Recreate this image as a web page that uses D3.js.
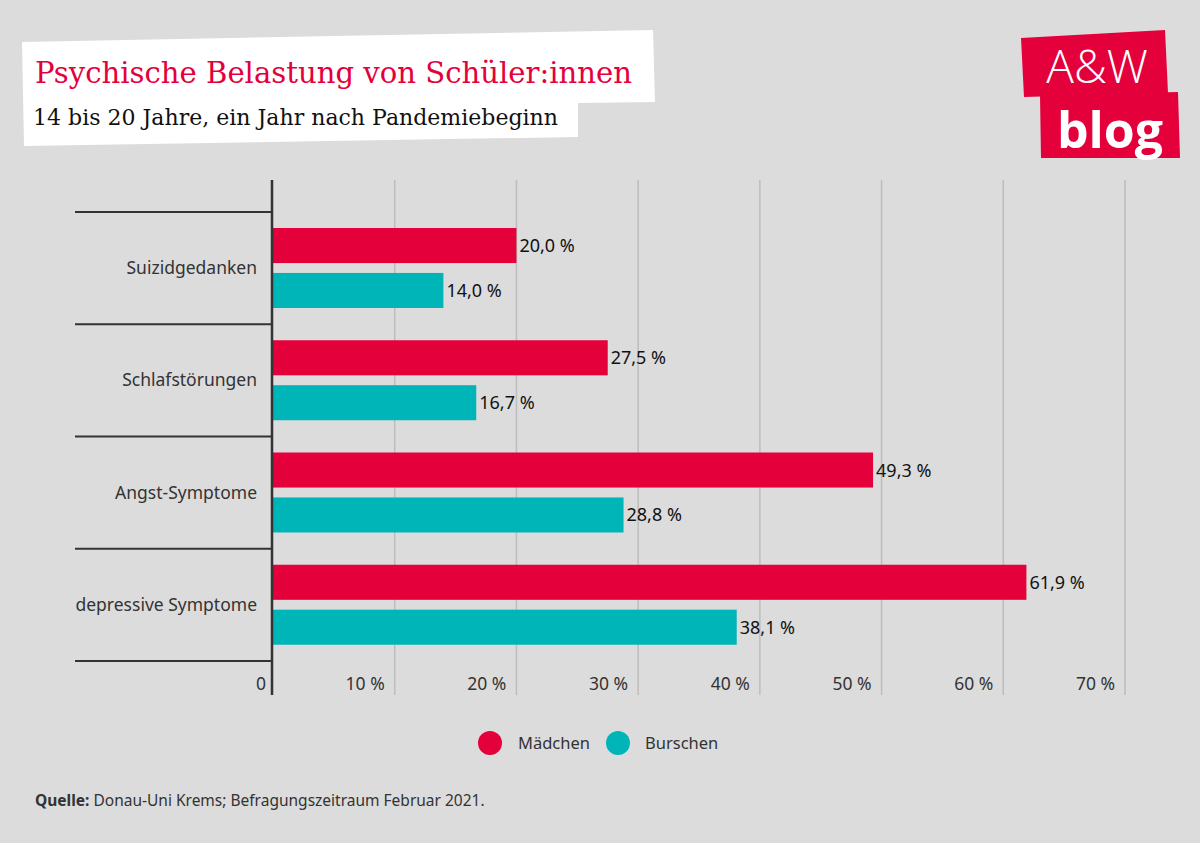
<!DOCTYPE html>
<html><head><meta charset="utf-8">
<script src="https://cdn.jsdelivr.net/npm/d3@7"></script>
<style>body{margin:0;background:#dcdcdc;}svg{display:block;}</style>
</head><body>
<script>
const categories = ["Suizidgedanken","Schlafstörungen","Angst-Symptome","depressive Symptome"];
const series = ["Mädchen","Burschen"];
const maedchen = [20.0, 27.5, 49.3, 61.9];
const burschen = [14.0, 16.7, 28.8, 38.1];
const ticks = [0,10,20,30,40,50,60,70];
const tickLabels = ["0","10 %","20 %","30 %","40 %","50 %","60 %","70 %"];
const colors = ["#e4003b","#00b5b8"];

const W=1200,H=843;
const svg=d3.select("body").append("svg").attr("width",W).attr("height",H);
svg.append("rect").attr("width",W).attr("height",H).attr("fill","#dcdcdc");

// title box
svg.append("path").attr("d","M22,42 L653,30 L655,102 L578,103 L578,137 L24,146 Z").attr("fill","#fff");
svg.append("text").attr("x",35).attr("y",83).attr("fill","#e4003b")
  .attr("font-family","DejaVu Serif").attr("font-size",29).attr("textLength",597).attr("lengthAdjust","spacingAndGlyphs")
  .text("Psychische Belastung von Schüler:innen");
svg.append("text").attr("x",33).attr("y",125).attr("fill","#111")
  .attr("font-family","DejaVu Serif").attr("font-size",22).attr("textLength",525).attr("lengthAdjust","spacingAndGlyphs")
  .text("14 bis 20 Jahre, ein Jahr nach Pandemiebeginn");

// logo
svg.append("path").attr("d","M1021,38 L1165,30 L1168,93 L1024,97 Z").attr("fill","#e4003b");
svg.append("path").attr("d","M1040,95 L1178,92 L1180,158 L1041,158 Z").attr("fill","#e4003b");
svg.append("text").attr("x",1097).attr("y",83).attr("text-anchor","middle").attr("fill","#fff")
  .attr("font-family","Open Sans").attr("font-size",46).attr("font-weight",300).text("A&W");
svg.append("text").attr("x",1110).attr("y",148).attr("text-anchor","middle").attr("fill","#fff")
  .attr("font-family","Open Sans").attr("font-size",50).attr("font-weight",700).text("blog");

const x=d3.scaleLinear().domain([0,70]).range([273,1125]);
const y=d3.scaleBand().domain(categories).range([212,661]);
const inner=d3.scaleBand().domain(series).range([16,96]).paddingInner(0.22);

// gridlines
svg.append("g").selectAll("line").data(ticks.slice(1)).join("line")
  .attr("x1",d=>x(d)).attr("x2",d=>x(d)).attr("y1",180).attr("y2",695)
  .attr("stroke","#bdbdbd").attr("stroke-width",1.5);

// category separators
const sepY = categories.map(c=>y(c)).concat([y.range()[1]]);
svg.append("g").selectAll("line").data(sepY).join("line")
  .attr("x1",75).attr("x2",272).attr("y1",d=>d).attr("y2",d=>d)
  .attr("stroke","#333").attr("stroke-width",2);

// bars
const data=[];
categories.forEach((c,i)=>{data.push({c,s:series[0],v:maedchen[i],col:colors[0]});data.push({c,s:series[1],v:burschen[i],col:colors[1]});});
svg.append("g").selectAll("rect").data(data).join("rect")
  .attr("x",x(0)).attr("y",d=>y(d.c)+inner(d.s)).attr("width",d=>x(d.v)-x(0)).attr("height",inner.bandwidth())
  .attr("fill",d=>d.col);
svg.append("g").selectAll("text").data(data).join("text")
  .attr("x",d=>x(d.v)+3).attr("y",d=>y(d.c)+inner(d.s)+inner.bandwidth()/2+6.5)
  .attr("font-family","Noto Sans").attr("font-size",18).attr("fill","#111")
  .text(d=>d.v.toFixed(1).replace(".",",")+" %");

// category labels
svg.append("g").selectAll("text").data(categories).join("text")
  .attr("x",257).attr("y",d=>y(d)+y.bandwidth()/2+6)
  .attr("text-anchor","end")
  .attr("font-family","Noto Sans").attr("font-size",17.5).attr("fill","#333").text(d=>d);

// axis line
svg.append("line").attr("x1",272).attr("x2",272).attr("y1",180).attr("y2",695).attr("stroke","#333").attr("stroke-width",2.5);

// tick labels
svg.append("g").selectAll("text").data(ticks).join("text")
  .attr("x",(d,i)=>i===0?266:x(d)-10).attr("y",690).attr("text-anchor","end")
  .attr("font-family","Noto Sans").attr("font-size",17.5).attr("fill","#333")
  .text((d,i)=>tickLabels[i]);

// legend
const lg=[{s:series[0],cx:490,tx:518},{s:series[1],cx:618,tx:645}];
lg.forEach((l,i)=>{
  svg.append("circle").attr("cx",l.cx).attr("cy",743).attr("r",12).attr("fill",colors[i]);
  svg.append("text").attr("x",l.tx).attr("y",749).attr("font-family","Noto Sans").attr("font-size",16.5).attr("fill","#333").text(l.s);
});

// source
const src=svg.append("text").attr("x",35).attr("y",806).attr("font-family","Noto Sans").attr("font-size",15.5).attr("fill","#333");
src.append("tspan").attr("font-weight",700).text("Quelle:");
src.append("tspan").text(" Donau-Uni Krems; Befragungszeitraum Februar 2021.");
</script>
</body></html>
